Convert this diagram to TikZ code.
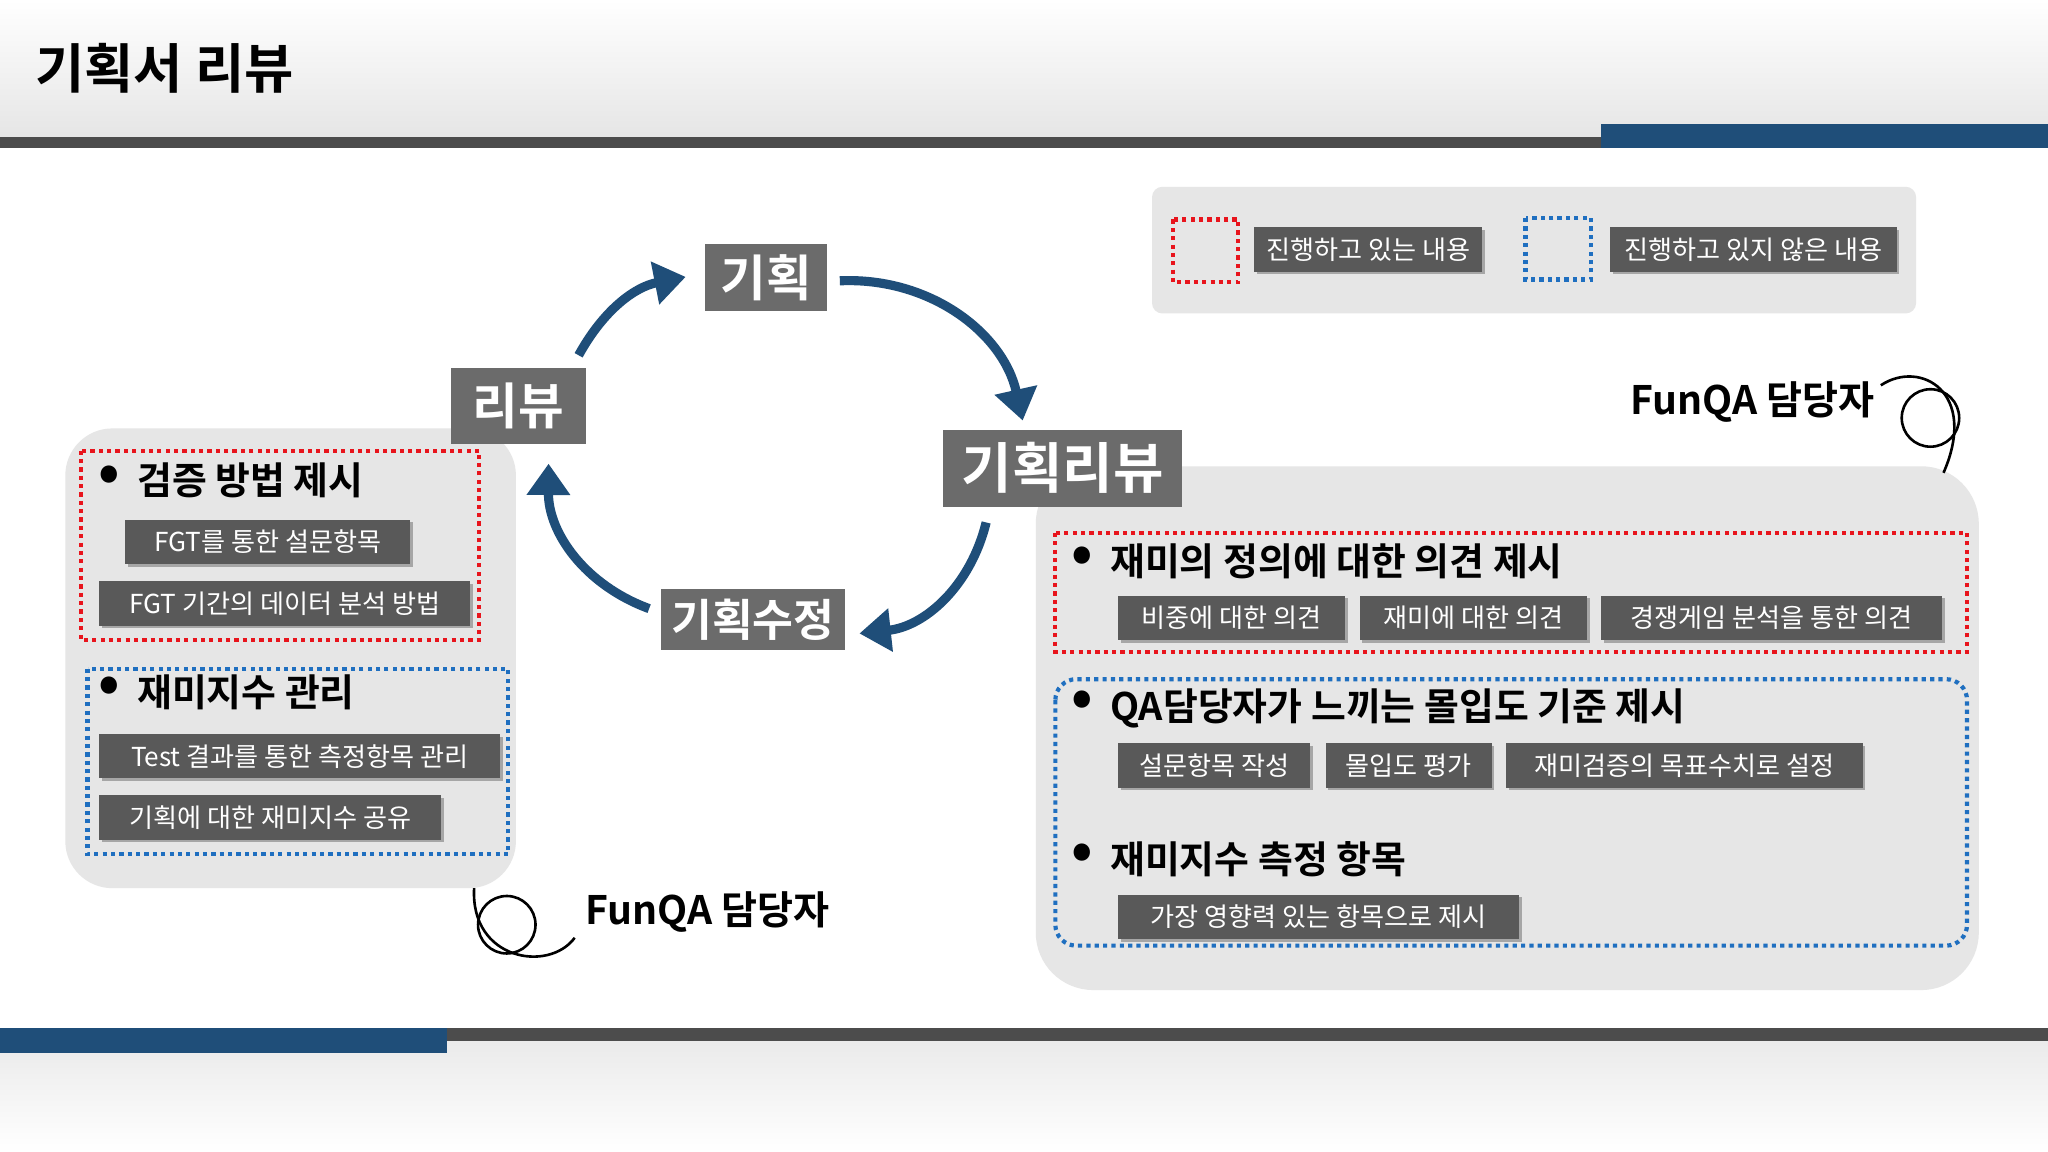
\documentclass[tikz,border=0pt]{standalone}
\usepackage{fontspec}
\setmainfont{Noto Sans CJK KR}[BoldFont={Noto Sans CJK KR Bold}]
\usetikzlibrary{arrows.meta,shadows}
\definecolor{dblue}{HTML}{1F4E79}
\definecolor{boxg}{HTML}{6B6B6B}
\definecolor{sboxg}{HTML}{595959}
\definecolor{panel}{HTML}{E6E6E6}
\definecolor{rdot}{HTML}{E8141C}
\definecolor{bdot}{HTML}{1F6FC0}
\tikzset{
 drop shadow/.style={general shadow={fill=black!35,shadow xshift=1pt,shadow yshift=-1pt}},
 cyc/.style={fill=boxg,text=white,font=\bfseries\fontsize{19}{20}\selectfont,inner sep=0pt},
 sbox/.style={fill=sboxg,text=white,font=\fontsize{10}{11}\selectfont,inner sep=0pt,minimum height=17pt,drop shadow},
 bul/.style={anchor=west,font=\bfseries\fontsize{14.5}{16}\selectfont,inner sep=0pt},
 rframe/.style={draw=rdot,line width=1.6pt,dash pattern=on 1.6pt off 1.6pt},
 bframe/.style={draw=bdot,line width=1.6pt,dash pattern=on 1.6pt off 1.6pt},
 carr/.style={draw=dblue,line width=3.5pt,-{Triangle[length=12pt,width=16pt]}},
}
\newcommand{\bdot}{\raisebox{0.1em}{\scalebox{1.5}{•}}\ \ }
\begin{document}
\begin{tikzpicture}[x=0.5pt,y=-0.5pt]
\useasboundingbox (0,0) rectangle (1568,882);
\shade[top color=white,bottom color=black!10] (0,0) rectangle (1568,105);
\fill[black!5] (0,105) rectangle (1568,797);
\fill[white] (0,113) rectangle (1568,787);
\fill[black!70] (0,105) rectangle (1226,113);
\fill[dblue] (1226,95) rectangle (1568,113);
\shade[top color=black!8,bottom color=white] (0,797) rectangle (1568,882);
\fill[black!70] (342,787) rectangle (1568,797);
\fill[dblue] (0,787) rectangle (342,806);
\node[anchor=west,font=\bfseries\fontsize{20.5}{22}\selectfont] (title) at (20,52) {기획서 리뷰};
% legend
\fill[panel,rounded corners=4pt] (882,143) rectangle (1467,240);
\draw[rframe] (898,168) rectangle (948,216);
\node[sbox,minimum width=87.5pt] (l1) at (1047.5,191) {진행하고 있는 내용};
\draw[bframe] (1168,167) rectangle (1218,214);
\node[sbox,minimum width=109.5pt] (l2) at (1342.5,191) {진행하고 있지 않은 내용};
% left panel
\fill[panel,rounded corners=18pt] (50,328) rectangle (395,680);
% right panel
\fill[panel,rounded corners=22pt] (793,357) rectangle (1515,758);
% cycle
\node[cyc,minimum width=46.5pt,minimum height=25.5pt] (g) at (586.5,212.5) {기획};
\node[cyc,minimum width=52pt,minimum height=29pt] (r) at (397,311) {리뷰};
\node[cyc,minimum width=91.5pt,minimum height=29.5pt,font=\bfseries\fontsize{21}{22}\selectfont] (gr) at (813.5,358.5) {기획리뷰};
\node[cyc,minimum width=70.5pt,minimum height=23.5pt,font=\bfseries\fontsize{17}{18}\selectfont] (gs) at (576.5,474.5) {기획수정};
\draw[carr] (443,272) to[bend left=25] (525,212);
\draw[carr] (643,215) to[bend left=40] (783,322);
\draw[carr] (755,400) to[bend left=35] (658,485);
\draw[carr] (497,466) to[bend left=35] (420,355);
% left content
\draw[rframe] (62,345) rectangle (367,490);
\node[bul] (b1) at (75,368) {\bdot 검증 방법 제시};
\node[sbox,minimum width=109pt] (s1) at (205,415) {FGT를 통한 설문항목};
\node[sbox,minimum width=142pt] (s2) at (218,462) {FGT 기간의 데이터 분석 방법};
\draw[bframe] (67,512) rectangle (389,654);
\node[bul] (b2) at (75,530) {\bdot 재미지수 관리};
\node[sbox,minimum width=153.5pt] (s3) at (229.5,579) {Test 결과를 통한 측정항목 관리};
\node[sbox,minimum width=131pt] (s4) at (207,626) {기획에 대한 재미지수 공유};
\draw[line width=1pt] (388,708) circle (22);
\draw[line width=1pt] (440,718) .. controls (420,745) and (360,735) .. (363,680);
\node[anchor=west,font=\bfseries\fontsize{15}{16}\selectfont] (f1) at (441,698) {FunQA 담당자};
% right content
\node[anchor=east,font=\bfseries\fontsize{15}{16}\selectfont] (f2) at (1442,308) {FunQA 담당자};
\draw[line width=1pt] (1478,320) circle (22);
\draw[line width=1pt] (1440,295) .. controls (1470,275) and (1515,300) .. (1488,362);
\draw[rframe] (808,408) rectangle (1506,499);
\node[bul] (b3) at (820,430) {\bdot 재미의 정의에 대한 의견 제시};
\node[sbox,minimum width=87pt] (s5) at (943,473) {비중에 대한 의견};
\node[sbox,minimum width=87pt] (s6) at (1128,473) {재미에 대한 의견};
\node[sbox,minimum width=130.5pt] (s7) at (1356.5,473) {경쟁게임 분석을 통한 의견};
\draw[bframe,rounded corners=8pt] (808,520) rectangle (1506,724);
\node[bul] (b4) at (820,542) {\bdot QA담당자가 느끼는 몰입도 기준 제시};
\node[sbox,minimum width=73.5pt] (s8) at (929.5,586) {설문항목 작성};
\node[sbox,minimum width=63.5pt] (s9) at (1078.5,586) {몰입도 평가};
\node[sbox,minimum width=136.5pt] (s10) at (1289.5,586) {재미검증의 목표수치로 설정};
\node[bul] (b5) at (820,658) {\bdot 재미지수 측정 항목};
\node[sbox,minimum width=153.5pt] (s11) at (1009.5,702) {가장 영향력 있는 항목으로 제시};
\end{tikzpicture}
\end{document}
